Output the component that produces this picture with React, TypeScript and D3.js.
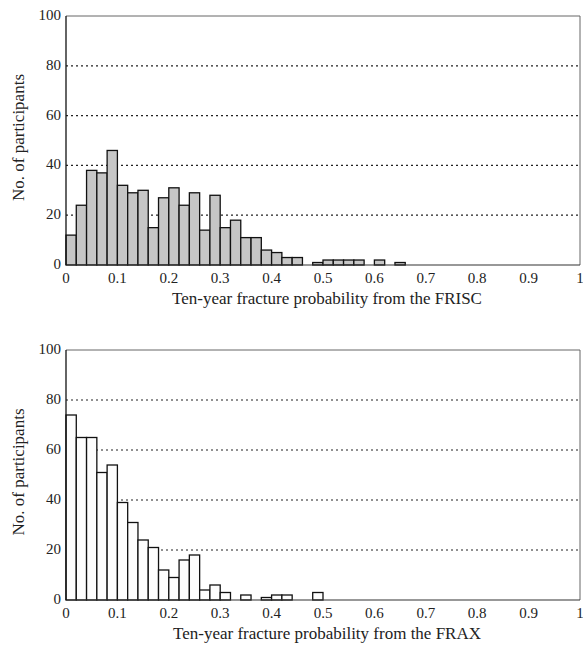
import React from "react";
import * as d3 from "d3";

// bin starts (bin width 0.02)
const binStarts = [
  0, 0.02, 0.04, 0.06, 0.08, 0.1, 0.12, 0.14, 0.16, 0.18,
  0.2, 0.22, 0.24, 0.26, 0.28, 0.3, 0.32, 0.34, 0.36, 0.38,
  0.4, 0.42, 0.44, 0.46, 0.48, 0.5, 0.52, 0.54, 0.56, 0.58,
  0.6, 0.62, 0.64, 0.66,
];
const binWidth = 0.02;

const friscCounts = [
  12, 24, 38, 37, 46, 32, 29, 30, 15, 27,
  31, 24, 29, 14, 28, 15, 18, 11, 11, 6,
  5, 3, 3, 0, 1, 2, 2, 2, 2, 0,
  2, 0, 1, 0,
];

const fraxCounts = [
  74, 65, 65, 51, 54, 39, 31, 24, 21, 12,
  9, 16, 18, 4, 6, 3, 0, 2, 0, 1,
  2, 2, 0, 0, 3,
];

const xTicks = [0, 0.1, 0.2, 0.3, 0.4, 0.5, 0.6, 0.7, 0.8, 0.9, 1];
const xTickLabels = ["0", "0.1", "0.2", "0.3", "0.4", "0.5", "0.6", "0.7", "0.8", "0.9", "1"];
const yTicks = [0, 20, 40, 60, 80, 100];
const gridTicks = [20, 40, 60, 80];

const textStyle = {
  fontFamily: '"Liberation Serif", "Times New Roman", Times, "DejaVu Serif", serif',
};
const left = 66;
const right = 580;

function Panel({ top, bottom, counts, fill, title }) {
  const x = d3.scaleLinear().domain([0, 1]).range([left, right]);
  const y = d3.scaleLinear().domain([0, 100]).range([bottom, top]);

  return (
    <g>
      {gridTicks.map((t) => (
        <line
          key={t}
          x1={left}
          x2={right}
          y1={y(t)}
          y2={y(t)}
          stroke="#222"
          strokeWidth={1.2}
          strokeDasharray="2,3"
        />
      ))}
      {/* frame */}
      <line x1={left} x2={right} y1={y(100)} y2={y(100)} stroke="#666" strokeWidth={1} />
      <line x1={right} x2={right} y1={y(100)} y2={y(0)} stroke="#666" strokeWidth={1} />
      {counts.map((c, i) =>
        c > 0 ? (
          <rect
            key={i}
            x={x(binStarts[i])}
            y={y(c)}
            width={x(binStarts[i] + binWidth) - x(binStarts[i])}
            height={y(0) - y(c)}
            fill={fill}
            stroke="#111"
            strokeWidth={1.3}
          />
        ) : null
      )}
      <line x1={left} x2={right} y1={y(0)} y2={y(0)} stroke="#333" strokeWidth={1.2} />
      <line x1={left} x2={left} y1={y(100)} y2={y(0)} stroke="#111" strokeWidth={1.3} />
      {yTicks.map((t) => (
        <text
          key={t}
          x={left - 5}
          y={y(t) + 4}
          textAnchor="end"
          style={textStyle}
          fontSize={15}
          fill="#222"
        >
          {t}
        </text>
      ))}
      {xTicks.map((t, i) => (
        <text
          key={t}
          x={x(t)}
          y={bottom + 18}
          textAnchor="middle"
          style={textStyle}
          fontSize={15}
          fill="#222"
        >
          {xTickLabels[i]}
        </text>
      ))}
      <text
        x={(left + right) / 2 + 4}
        y={bottom + 39}
        textAnchor="middle"
        style={textStyle}
        fontSize={17}
        fill="#222"
      >
        {title}
      </text>
      <text
        transform={`translate(24, ${(top + bottom) / 2 - 3}) rotate(-90)`}
        textAnchor="middle"
        style={textStyle}
        fontSize={17}
        fill="#222"
      >
        No. of participants
      </text>
    </g>
  );
}

export default function App() {
  return (
    <svg
      width={583}
      height={654}
      style={{ position: "absolute", left: 0, top: 0, background: "#fff" }}
    >
      <rect width={583} height={654} fill="#fff" />
      <Panel
        top={16}
        bottom={265}
        counts={friscCounts}
        fill="#c6c6c6"
        title="Ten-year fracture probability from the FRISC"
      />
      <Panel
        top={350}
        bottom={600}
        counts={fraxCounts}
        fill="#fdfdfd"
        title="Ten-year fracture probability from the FRAX"
      />
    </svg>
  );
}
